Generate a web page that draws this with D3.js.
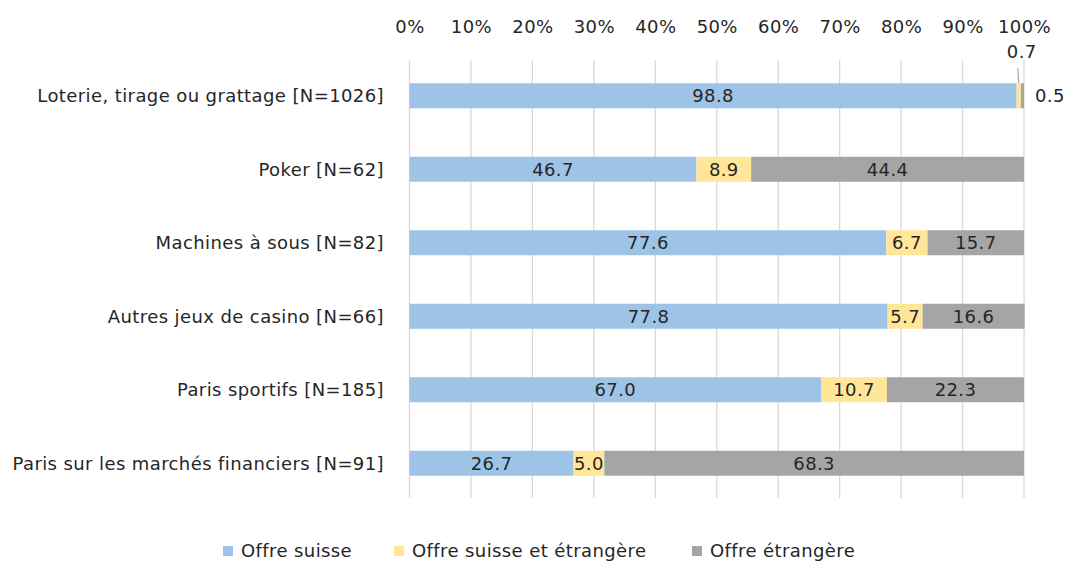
<!DOCTYPE html>
<html><head><meta charset="utf-8">
<script src="https://cdn.jsdelivr.net/npm/d3@7"></script>
<style>body{margin:0;background:#fff}svg{display:block}text{font-family:"DejaVu Sans",sans-serif;fill:#262626;letter-spacing:0.4px}</style>
</head><body><svg id="c" width="1068" height="561"></svg>
<script>
const categories = ["Loterie, tirage ou grattage [N=1026]","Poker [N=62]","Machines à sous [N=82]","Autres jeux de casino [N=66]","Paris sportifs [N=185]","Paris sur les marchés financiers [N=91]"];
const seriesNames = ["Offre suisse","Offre suisse et étrangère","Offre étrangère"];
const suisse = [98.8,46.7,77.6,77.8,67.0,26.7];
const mixte = [0.7,8.9,6.7,5.7,10.7,5.0];
const etrangere = [0.5,44.4,15.7,16.6,22.3,68.3];
const tickValues = [0,10,20,30,40,50,60,70,80,90,100];
const colors = ["#9DC3E6","#FFE699","#A5A5A5"];

const svg = d3.select("#c");
const x = d3.scaleLinear().domain([0,100]).range([409.5,1024]);
const y = d3.scaleBand().domain(categories).range([59,500]).paddingInner(0.66).paddingOuter(0.33);
const fs = 18;

// gridlines
svg.append("g").selectAll("line").data(tickValues).join("line")
  .attr("x1",d=>x(d)).attr("x2",d=>x(d)).attr("y1",60).attr("y2",498)
  .attr("stroke","#d9d9d9").attr("stroke-width",1.3);

// top axis labels
const ax = svg.append("g").attr("transform","translate(0,27)").call(d3.axisTop(x).tickValues(tickValues).tickFormat(d=>d+"%").tickSize(0).tickPadding(0));
ax.select(".domain").remove();
ax.selectAll("text").attr("font-size",fs).attr("font-family","DejaVu Sans").attr("fill","#262626").attr("dy","0.35em");

// category labels
svg.append("g").selectAll("text").data(categories).join("text")
  .attr("x",384).attr("y",d=>y(d)+y.bandwidth()/2).attr("dy","0.35em")
  .attr("text-anchor","end").attr("font-size",fs).text(d=>d);

const data = categories.map((c,i)=>({cat:c, s0:suisse[i], s1:mixte[i], s2:etrangere[i]}));
const stack = d3.stack().keys(["s0","s1","s2"])(data);

stack.forEach((layer,k)=>{
  const g = svg.append("g");
  g.selectAll("rect").data(layer).join("rect")
    .attr("x",d=>x(d[0])).attr("width",d=>x(d[1])-x(d[0]))
    .attr("y",d=>y(d.data.cat)).attr("height",y.bandwidth())
    .attr("fill",colors[k]);
  const lab = k===0 ? layer : layer.filter((d,i)=>i>0);
  g.selectAll("text").data(lab).join("text")
    .attr("x",d=>x((d[0]+d[1])/2)).attr("y",d=>y(d.data.cat)+y.bandwidth()/2).attr("dy","0.35em")
    .attr("text-anchor","middle").attr("font-size",fs).text(d=>(d[1]-d[0]).toFixed(1));
});

// first row special labels (small segments)
const yc0 = y(categories[0])+y.bandwidth()/2;
const m0 = stack[1][0];
const mx = x((m0[0]+m0[1])/2);
svg.append("line").attr("x1",mx-1).attr("y1",68).attr("x2",mx).attr("y2",y(categories[0])).attr("stroke","#a5a5a5").attr("stroke-width",1.2);
svg.append("text").attr("x",mx+3).attr("y",52).attr("dy","0.35em").attr("text-anchor","middle").attr("font-size",fs).text(mixte[0].toFixed(1));
svg.append("text").attr("x",x(100)+11).attr("y",yc0).attr("dy","0.35em").attr("text-anchor","start").attr("font-size",fs).text(etrangere[0].toFixed(1));

// legend
const legX = [223,394,692];
const lg = svg.append("g").selectAll("g").data(seriesNames).join("g").attr("transform",(d,i)=>`translate(${legX[i]},551)`);
lg.append("rect").attr("x",0).attr("y",-5).attr("width",10).attr("height",10).attr("fill",(d,i)=>colors[i]);
lg.append("text").attr("x",18).attr("y",0).attr("dy","0.35em").attr("font-size",fs).text(d=>d);
</script></body></html>
